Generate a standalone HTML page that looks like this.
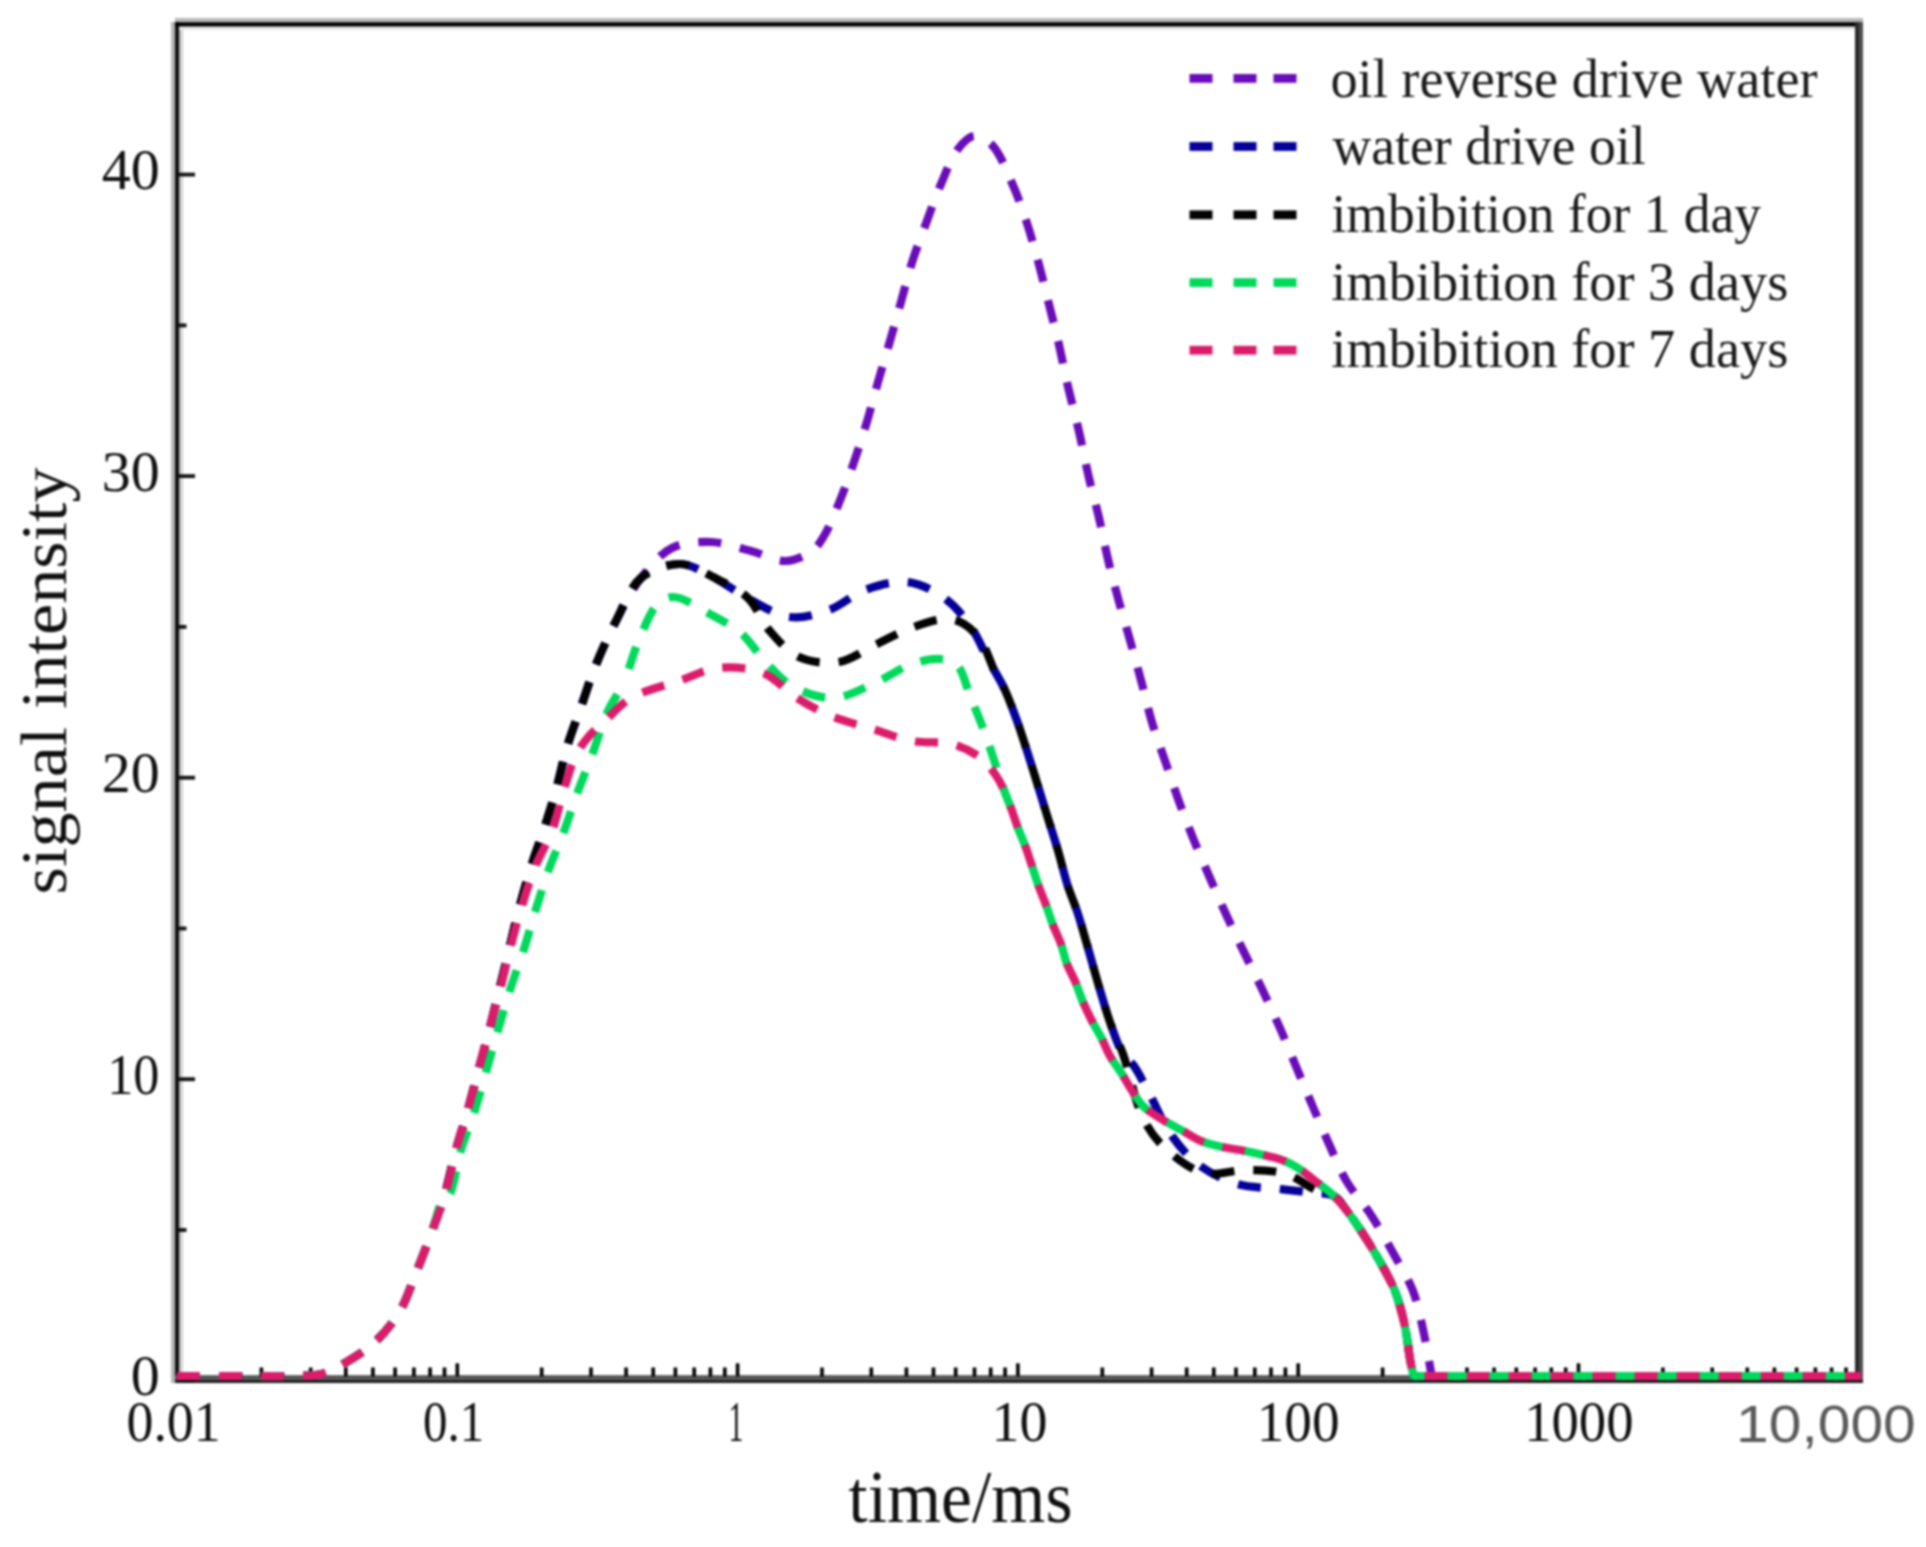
<!DOCTYPE html>
<html><head><meta charset="utf-8"><title>signal intensity vs time</title>
<style>html,body{margin:0;padding:0;background:#fff;}svg{display:block;filter:blur(0.9px);}</style>
</head><body>
<svg width="1926" height="1547" viewBox="0 0 1926 1547">
<rect width="1926" height="1547" fill="#fff"/>
<rect x="171" y="22" width="4" height="1361" fill="#b5b5b5"/>
<rect x="179" y="26" width="4" height="1350" fill="#d2d2d2"/>
<rect x="175" y="22" width="4.2" height="1361" fill="#111"/>
<rect x="175" y="18" width="1688" height="4.2" fill="#b8b8b8"/>
<rect x="179" y="26.5" width="1676" height="3.5" fill="#e8e8e8"/>
<rect x="175" y="22.2" width="1688" height="4.3" fill="#000"/>
<rect x="1855" y="22" width="4" height="1361" fill="#2a2a2a"/>
<rect x="1859" y="22" width="4" height="1361" fill="#4e4e4e"/>
<rect x="175" y="1375.2" width="1688" height="4.5" fill="#555"/>
<rect x="175" y="1379.7" width="1688" height="3.3" fill="#1c1c1c"/>
<rect x="179" y="1378.9" width="16" height="3.8" fill="#111"/>
<rect x="179" y="1077.3" width="16" height="3.8" fill="#111"/>
<rect x="179" y="775.8" width="16" height="3.8" fill="#111"/>
<rect x="179" y="474.2" width="16" height="3.8" fill="#111"/>
<rect x="179" y="172.7" width="16" height="3.8" fill="#111"/>
<rect x="179" y="1228.1" width="7.5" height="3.8" fill="#111"/>
<rect x="179" y="926.6" width="7.5" height="3.8" fill="#111"/>
<rect x="179" y="625.0" width="7.5" height="3.8" fill="#111"/>
<rect x="179" y="323.5" width="7.5" height="3.8" fill="#111"/>
<rect x="259.6" y="1367.5" width="3.6" height="9" fill="#000"/>
<rect x="308.9" y="1367.5" width="3.6" height="9" fill="#000"/>
<rect x="344.0" y="1367.5" width="3.6" height="9" fill="#000"/>
<rect x="371.1" y="1367.5" width="3.6" height="9" fill="#000"/>
<rect x="393.3" y="1367.5" width="3.6" height="9" fill="#000"/>
<rect x="412.1" y="1367.5" width="3.6" height="9" fill="#000"/>
<rect x="428.3" y="1367.5" width="3.6" height="9" fill="#000"/>
<rect x="442.7" y="1367.5" width="3.6" height="9" fill="#000"/>
<rect x="455.5" y="1363.3" width="3.6" height="13" fill="#000"/>
<rect x="539.9" y="1367.5" width="3.6" height="9" fill="#000"/>
<rect x="589.2" y="1367.5" width="3.6" height="9" fill="#000"/>
<rect x="624.3" y="1367.5" width="3.6" height="9" fill="#000"/>
<rect x="651.4" y="1367.5" width="3.6" height="9" fill="#000"/>
<rect x="673.6" y="1367.5" width="3.6" height="9" fill="#000"/>
<rect x="692.4" y="1367.5" width="3.6" height="9" fill="#000"/>
<rect x="708.6" y="1367.5" width="3.6" height="9" fill="#000"/>
<rect x="723.0" y="1367.5" width="3.6" height="9" fill="#000"/>
<rect x="735.8" y="1363.3" width="3.6" height="13" fill="#000"/>
<rect x="820.2" y="1367.5" width="3.6" height="9" fill="#000"/>
<rect x="869.5" y="1367.5" width="3.6" height="9" fill="#000"/>
<rect x="904.6" y="1367.5" width="3.6" height="9" fill="#000"/>
<rect x="931.7" y="1367.5" width="3.6" height="9" fill="#000"/>
<rect x="953.9" y="1367.5" width="3.6" height="9" fill="#000"/>
<rect x="972.7" y="1367.5" width="3.6" height="9" fill="#000"/>
<rect x="988.9" y="1367.5" width="3.6" height="9" fill="#000"/>
<rect x="1003.3" y="1367.5" width="3.6" height="9" fill="#000"/>
<rect x="1016.1" y="1363.3" width="3.6" height="13" fill="#000"/>
<rect x="1100.5" y="1367.5" width="3.6" height="9" fill="#000"/>
<rect x="1149.8" y="1367.5" width="3.6" height="9" fill="#000"/>
<rect x="1184.9" y="1367.5" width="3.6" height="9" fill="#000"/>
<rect x="1212.0" y="1367.5" width="3.6" height="9" fill="#000"/>
<rect x="1234.2" y="1367.5" width="3.6" height="9" fill="#000"/>
<rect x="1253.0" y="1367.5" width="3.6" height="9" fill="#000"/>
<rect x="1269.2" y="1367.5" width="3.6" height="9" fill="#000"/>
<rect x="1283.6" y="1367.5" width="3.6" height="9" fill="#000"/>
<rect x="1296.4" y="1363.3" width="3.6" height="13" fill="#000"/>
<rect x="1380.8" y="1367.5" width="3.6" height="9" fill="#000"/>
<rect x="1430.1" y="1367.5" width="3.6" height="9" fill="#000"/>
<rect x="1465.2" y="1367.5" width="3.6" height="9" fill="#000"/>
<rect x="1492.3" y="1367.5" width="3.6" height="9" fill="#000"/>
<rect x="1514.5" y="1367.5" width="3.6" height="9" fill="#000"/>
<rect x="1533.3" y="1367.5" width="3.6" height="9" fill="#000"/>
<rect x="1549.5" y="1367.5" width="3.6" height="9" fill="#000"/>
<rect x="1563.9" y="1367.5" width="3.6" height="9" fill="#000"/>
<rect x="1576.7" y="1363.3" width="3.6" height="13" fill="#000"/>
<rect x="1661.1" y="1367.5" width="3.6" height="9" fill="#000"/>
<rect x="1710.4" y="1367.5" width="3.6" height="9" fill="#000"/>
<rect x="1745.5" y="1367.5" width="3.6" height="9" fill="#000"/>
<rect x="1772.6" y="1367.5" width="3.6" height="9" fill="#000"/>
<rect x="1794.8" y="1367.5" width="3.6" height="9" fill="#000"/>
<rect x="1813.6" y="1367.5" width="3.6" height="9" fill="#000"/>
<rect x="1829.8" y="1367.5" width="3.6" height="9" fill="#000"/>
<rect x="1844.2" y="1367.5" width="3.6" height="9" fill="#000"/>
<path d="M177.0,1376.0 C201.3,1376.0 228.0,1376.0 250.0,1376.0 C268.2,1376.0 286.7,1376.6 300.0,1376.0 C308.8,1375.6 314.8,1376.0 322.0,1374.0 C329.8,1371.9 337.0,1367.7 345.0,1363.0 C354.6,1357.4 366.0,1350.4 375.0,1342.0 C384.4,1333.2 393.2,1322.4 400.0,1311.0 C406.9,1299.4 410.8,1285.8 416.0,1273.0 C421.2,1260.1 426.2,1247.0 431.0,1234.0 C435.8,1221.0 445.0,1195.0 445.0,1195.0 C445.0,1195.0 445.0,1195.0 445.0,1195.0 C445.0,1195.0 452.2,1164.2 456.0,1150.0 C459.5,1137.0 463.4,1125.7 467.0,1113.0 C470.8,1099.7 474.3,1085.7 478.0,1072.0 C481.7,1058.3 485.5,1044.6 489.0,1031.0 C492.5,1017.6 495.7,1004.4 499.0,991.0 C502.4,977.4 505.7,963.7 509.0,950.0 C512.3,936.3 515.3,922.9 519.0,909.0 C522.9,894.3 527.6,878.0 532.0,864.0 C535.9,851.5 540.1,841.0 544.0,829.0 C548.1,816.4 552.2,803.4 556.0,790.0 C559.9,776.1 562.8,761.0 567.0,747.0 C571.1,733.3 576.3,720.3 581.0,707.0 C585.7,693.7 589.5,680.7 595.0,667.0 C601.0,652.1 608.3,635.9 616.0,621.0 C623.6,606.2 631.2,590.5 641.0,578.0 C650.1,566.4 660.0,554.0 672.0,548.0 C683.5,542.3 698.0,541.6 711.0,542.0 C724.3,542.5 738.2,547.7 751.0,551.0 C763.1,554.1 775.3,561.5 786.0,561.0 C795.4,560.6 805.4,555.8 812.0,551.0 C817.5,547.0 820.2,542.3 824.0,536.0 C829.3,527.4 834.2,514.7 839.0,503.0 C844.3,490.2 849.3,475.5 854.0,462.0 C858.5,448.9 862.6,436.2 866.6,423.0 C870.6,409.5 874.1,395.7 878.0,382.0 C881.9,368.3 886.1,354.5 890.0,341.0 C893.8,327.8 897.3,315.2 901.0,302.0 C904.8,288.5 908.3,274.3 912.5,261.0 C916.6,248.1 921.3,236.1 926.0,223.5 C930.8,210.5 935.5,196.7 941.0,184.0 C946.2,171.9 951.4,157.4 958.0,149.0 C962.8,142.9 968.3,136.6 974.0,136.0 C979.6,135.4 986.6,139.7 992.0,145.0 C999.9,152.7 1006.2,170.1 1012.0,183.0 C1017.7,195.7 1022.2,208.9 1026.6,222.0 C1030.9,234.9 1034.4,247.8 1038.0,261.0 C1041.7,274.5 1045.0,288.3 1048.4,302.0 C1051.8,315.7 1055.4,329.3 1058.6,343.0 C1061.7,356.5 1064.1,369.4 1067.3,383.5 C1070.8,398.8 1075.4,415.6 1079.0,431.5 C1082.6,447.1 1085.5,463.0 1089.0,478.0 C1092.3,492.1 1096.1,505.2 1099.3,519.0 C1102.5,532.9 1105.1,547.2 1108.4,561.0 C1111.6,574.5 1115.1,587.6 1118.8,601.0 C1122.6,614.8 1126.8,628.7 1130.7,642.6 C1134.6,656.4 1138.3,670.3 1142.0,684.0 C1145.6,697.4 1148.5,710.8 1152.5,724.0 C1156.5,737.2 1161.4,750.0 1165.8,763.0 C1170.3,776.0 1174.5,789.1 1179.2,802.0 C1183.9,814.9 1188.8,827.6 1194.0,840.4 C1199.2,853.3 1204.9,866.3 1210.4,879.0 C1215.8,891.5 1221.1,903.7 1226.8,916.0 C1232.5,928.5 1238.6,941.0 1244.6,953.4 C1250.5,965.7 1256.7,977.7 1262.5,990.0 C1268.4,1002.4 1274.1,1014.8 1279.8,1027.7 C1285.7,1041.1 1291.4,1055.4 1297.0,1068.8 C1302.4,1081.8 1307.6,1094.4 1313.0,1107.0 C1318.3,1119.4 1323.4,1131.6 1329.0,1144.0 C1334.7,1156.6 1339.9,1170.1 1347.0,1182.0 C1354.0,1193.7 1363.4,1203.3 1371.0,1215.0 C1379.0,1227.3 1386.6,1241.1 1393.7,1254.0 C1400.5,1266.4 1408.0,1278.0 1413.0,1291.0 C1418.1,1304.3 1420.8,1319.5 1423.8,1333.0 C1426.5,1345.4 1429.0,1361.7 1430.5,1369.0 C1431.1,1372.2 1430.7,1374.9 1432.0,1376.0 C1433.1,1376.9 1434.7,1376.0 1437.0,1376.0 C1441.9,1376.0 1447.6,1376.0 1460.0,1376.0 C1511.7,1376.0 1727.3,1376.0 1861.0,1376.0" fill="none" stroke="#6a0cba" stroke-width="8.2" stroke-dasharray="23 19" stroke-dashoffset="0.0"/>
<path d="M177.0,1376.0 C201.3,1376.0 228.0,1376.0 250.0,1376.0 C268.2,1376.0 286.7,1376.6 300.0,1376.0 C308.8,1375.6 314.8,1376.0 322.0,1374.0 C329.8,1371.9 337.0,1367.7 345.0,1363.0 C354.6,1357.4 366.0,1350.4 375.0,1342.0 C384.4,1333.2 393.2,1322.4 400.0,1311.0 C406.9,1299.4 410.8,1285.8 416.0,1273.0 C421.2,1260.1 426.2,1247.0 431.0,1234.0 C435.8,1221.0 445.0,1195.0 445.0,1195.0 C445.0,1195.0 445.0,1195.0 445.0,1195.0 C445.0,1195.0 452.2,1164.2 456.0,1150.0 C459.5,1137.0 463.4,1125.7 467.0,1113.0 C470.8,1099.7 474.3,1085.7 478.0,1072.0 C481.7,1058.3 485.5,1044.6 489.0,1031.0 C492.5,1017.6 495.7,1004.4 499.0,991.0 C502.4,977.4 505.7,963.7 509.0,950.0 C512.3,936.3 515.3,922.9 519.0,909.0 C522.9,894.3 527.6,878.0 532.0,864.0 C535.9,851.5 540.1,841.0 544.0,829.0 C548.1,816.4 552.2,803.4 556.0,790.0 C559.9,776.1 562.8,761.0 567.0,747.0 C571.1,733.3 576.3,720.3 581.0,707.0 C585.7,693.7 589.5,680.7 595.0,667.0 C601.0,652.1 608.3,635.9 616.0,621.0 C623.6,606.2 629.6,587.5 641.0,578.0 C651.4,569.3 667.6,563.8 680.0,564.0" fill="none" stroke="#06009a" stroke-width="8.2" stroke-dasharray="23 19" stroke-dashoffset="0.0"/>
<path d="M680.0,564.0 C691.5,564.2 702.0,571.5 713.0,577.0 C725.0,583.0 736.4,592.4 749.0,599.0 C762.0,605.8 776.3,615.4 790.0,617.0 C802.9,618.5 816.6,614.4 829.0,610.0 C841.6,605.5 852.1,594.7 865.0,590.0 C878.1,585.3 893.7,580.6 907.0,582.0 C919.7,583.3 932.6,589.9 943.0,597.0 C953.2,604.0 961.5,613.7 969.0,624.0 C977.0,634.9 982.8,649.7 989.0,661.0 C994.3,670.7 999.5,678.6 1004.0,688.0 C1008.6,697.6 1012.1,707.5 1016.0,718.0 C1020.2,729.4 1024.2,742.3 1028.0,754.0 C1031.5,765.0 1034.7,775.3 1038.0,786.0 C1041.3,796.8 1044.7,807.7 1048.0,818.5 C1051.3,829.2 1054.8,839.5 1058.0,850.5 C1061.4,862.1 1064.5,875.8 1068.0,886.6 C1070.9,895.6 1074.0,902.0 1077.0,911.0 C1080.7,922.0 1084.3,935.3 1088.0,948.0 C1091.9,961.5 1096.0,976.7 1100.0,990.0 C1103.7,1002.2 1107.0,1014.0 1111.0,1025.0 C1114.7,1035.2 1118.4,1046.7 1123.0,1054.0 C1126.3,1059.2 1130.3,1060.9 1134.0,1066.0 C1139.0,1073.0 1143.5,1082.9 1149.0,1093.0 C1155.9,1105.6 1163.1,1123.6 1172.0,1136.0 C1180.0,1147.2 1188.4,1157.1 1199.0,1165.0 C1210.0,1173.2 1223.6,1180.0 1237.0,1184.0 C1250.6,1188.0 1266.5,1187.4 1280.0,1189.0 C1292.0,1190.4 1304.2,1191.7 1314.0,1193.0 C1321.6,1194.0 1328.3,1192.8 1334.0,1196.0 C1340.1,1199.4 1344.0,1206.9 1349.0,1213.5 C1354.9,1221.3 1361.3,1231.0 1367.0,1240.0 C1372.6,1248.9 1378.2,1258.2 1383.0,1267.0 C1387.4,1275.2 1391.7,1282.8 1395.0,1291.0 C1398.2,1299.1 1400.6,1307.9 1402.6,1316.0 C1404.5,1323.5 1405.8,1330.7 1407.0,1338.0 C1408.2,1345.1 1408.9,1353.0 1410.0,1359.0 C1410.8,1363.6 1411.7,1367.9 1412.5,1371.0 C1413.0,1373.0 1412.9,1375.2 1414.0,1376.0 C1415.1,1376.8 1416.8,1376.0 1419.0,1376.0 C1423.6,1376.0 1428.6,1376.0 1440.0,1376.0 C1491.2,1376.0 1720.7,1376.0 1861.0,1376.0" fill="none" stroke="#06009a" stroke-width="8.2" stroke-dasharray="23 19" stroke-dashoffset="4.0"/>
<path d="M177.0,1376.0 C201.3,1376.0 228.0,1376.0 250.0,1376.0 C268.2,1376.0 286.7,1376.6 300.0,1376.0 C308.8,1375.6 314.8,1376.0 322.0,1374.0 C329.8,1371.9 337.0,1367.7 345.0,1363.0 C354.6,1357.4 366.0,1350.4 375.0,1342.0 C384.4,1333.2 393.2,1322.4 400.0,1311.0 C406.9,1299.4 410.8,1285.8 416.0,1273.0 C421.2,1260.1 426.2,1247.0 431.0,1234.0 C435.8,1221.0 445.0,1195.0 445.0,1195.0 C445.0,1195.0 445.0,1195.0 445.0,1195.0 C445.0,1195.0 452.2,1164.2 456.0,1150.0 C459.5,1137.0 463.4,1125.7 467.0,1113.0 C470.8,1099.7 474.3,1085.7 478.0,1072.0 C481.7,1058.3 485.5,1044.6 489.0,1031.0 C492.5,1017.6 495.7,1004.4 499.0,991.0 C502.4,977.4 505.7,963.7 509.0,950.0 C512.3,936.3 515.3,922.9 519.0,909.0 C522.9,894.3 527.6,878.0 532.0,864.0 C535.9,851.5 540.1,841.0 544.0,829.0 C548.1,816.4 552.2,803.4 556.0,790.0 C559.9,776.1 562.8,761.0 567.0,747.0 C571.1,733.3 576.3,720.3 581.0,707.0 C585.7,693.7 589.5,680.7 595.0,667.0 C601.0,652.1 608.3,635.9 616.0,621.0 C623.6,606.2 629.6,587.5 641.0,578.0 C651.4,569.3 667.6,563.8 680.0,564.0 C691.5,564.2 702.1,571.6 713.0,577.0 C724.7,582.8 738.6,589.0 748.0,598.0 C757.1,606.8 760.6,620.3 769.0,630.0 C777.6,640.0 787.3,651.7 799.0,657.0 C810.7,662.3 826.3,664.0 839.0,662.0 C851.6,660.0 863.0,650.7 875.0,645.0 C887.0,639.3 898.9,632.4 911.0,628.0 C922.6,623.8 936.3,618.9 946.0,619.0 C953.0,619.1 958.5,620.8 964.0,624.0 C970.3,627.7 976.1,634.0 981.0,641.0 C986.8,649.4 990.7,663.4 995.0,672.0 C998.2,678.3 1001.0,681.7 1004.0,688.0 C1008.0,696.3 1012.1,707.5 1016.0,718.0 C1020.2,729.4 1024.2,742.3 1028.0,754.0 C1031.5,765.0 1034.7,775.3 1038.0,786.0 C1041.3,796.8 1044.7,807.7 1048.0,818.5 C1051.3,829.2 1054.8,839.5 1058.0,850.5 C1061.4,862.1 1064.5,875.8 1068.0,886.6 C1070.9,895.6 1074.0,902.0 1077.0,911.0 C1080.7,922.0 1084.3,935.3 1088.0,948.0 C1091.9,961.5 1096.0,976.7 1100.0,990.0 C1103.7,1002.2 1107.0,1014.0 1111.0,1025.0 C1114.7,1035.2 1118.7,1042.3 1123.0,1054.0 C1129.4,1071.4 1135.2,1103.0 1144.0,1120.0 C1150.4,1132.3 1156.7,1140.5 1166.0,1149.0 C1176.3,1158.4 1190.4,1169.6 1204.0,1173.0 C1217.1,1176.3 1232.2,1169.8 1246.0,1170.0 C1259.5,1170.2 1273.9,1170.3 1286.0,1174.0 C1297.1,1177.4 1307.1,1186.2 1316.0,1190.0 C1322.6,1192.8 1328.7,1192.4 1334.0,1196.0 C1339.8,1199.9 1344.0,1206.9 1349.0,1213.5 C1354.9,1221.3 1361.3,1231.0 1367.0,1240.0 C1372.6,1248.9 1378.2,1258.2 1383.0,1267.0 C1387.4,1275.2 1391.7,1282.8 1395.0,1291.0 C1398.2,1299.1 1400.6,1307.9 1402.6,1316.0 C1404.5,1323.5 1405.8,1330.7 1407.0,1338.0 C1408.2,1345.1 1408.9,1353.0 1410.0,1359.0 C1410.8,1363.6 1411.7,1367.9 1412.5,1371.0 C1413.0,1373.0 1412.9,1375.2 1414.0,1376.0 C1415.1,1376.8 1416.8,1376.0 1419.0,1376.0 C1423.6,1376.0 1428.6,1376.0 1440.0,1376.0 C1491.2,1376.0 1720.7,1376.0 1861.0,1376.0" fill="none" stroke="#030303" stroke-width="8.2" stroke-dasharray="23 19" stroke-dashoffset="0.0"/>
<path d="M177.0,1376.0 C201.3,1376.0 228.0,1376.0 250.0,1376.0 C268.2,1376.0 286.7,1376.6 300.0,1376.0 C308.8,1375.6 314.8,1376.0 322.0,1374.0 C329.8,1371.9 337.0,1367.7 345.0,1363.0 C354.6,1357.4 366.0,1350.4 375.0,1342.0 C384.4,1333.2 393.2,1322.4 400.0,1311.0 C406.9,1299.4 410.8,1285.8 416.0,1273.0 C421.2,1260.1 426.2,1247.0 431.0,1234.0 C435.8,1221.0 440.6,1198.1 445.0,1195.0 C446.4,1194.0 447.7,1196.0 449.0,1195.0 C453.4,1191.6 456.6,1164.2 461.0,1150.0 C465.0,1137.0 469.9,1125.7 474.0,1113.0 C478.3,1099.7 482.0,1085.8 486.0,1072.0 C490.0,1058.1 494.0,1043.8 498.0,1030.0 C502.0,1016.5 505.7,1003.4 510.0,990.0 C514.4,976.4 519.6,962.6 524.0,949.0 C528.3,935.6 531.8,922.3 536.0,909.0 C540.2,895.6 544.4,881.8 549.0,869.0 C553.4,856.9 558.5,846.1 563.0,834.0 C567.8,821.2 572.1,807.2 577.0,794.0 C581.8,780.9 587.0,768.4 592.0,755.0 C597.3,740.8 602.2,723.7 608.0,711.0 C612.7,700.7 618.3,694.3 623.0,684.0" fill="none" stroke="#00d95c" stroke-width="8.2" stroke-dasharray="23 19" stroke-dashoffset="0.0"/>
<path d="M623.0,684.0 C628.8,671.3 633.0,653.7 639.0,640.0 C644.5,627.5 649.9,612.1 657.0,605.0 C661.8,600.2 666.5,597.1 673.0,597.0 C682.8,596.8 698.3,607.7 710.0,614.0 C721.3,620.1 733.0,626.1 742.0,634.0 C750.4,641.3 755.2,650.7 763.0,659.0 C771.6,668.1 780.6,679.5 792.0,686.0 C803.8,692.7 819.5,698.4 833.0,698.0 C846.5,697.7 859.9,689.6 873.0,684.0 C886.3,678.3 899.8,668.1 912.0,664.0 C921.8,660.7 931.9,658.3 940.0,659.0 C946.4,659.5 952.3,660.6 957.0,665.0 C963.5,671.1 966.0,686.1 970.5,697.0 C975.2,708.4 980.2,720.4 984.5,732.0 C988.7,743.4 992.5,755.6 996.0,766.0 C998.9,774.7 1001.3,782.6 1004.0,790.0 C1006.3,796.5 1008.7,801.8 1011.0,808.0 C1013.4,814.5 1015.5,821.4 1018.0,828.0 C1020.5,834.7 1023.6,841.5 1026.0,848.0 C1028.2,854.1 1029.9,859.8 1032.0,866.0 C1034.2,872.7 1036.6,880.3 1039.0,887.0 C1041.3,893.3 1043.7,898.8 1046.0,905.0 C1048.4,911.5 1050.5,918.5 1053.0,925.0 C1055.5,931.5 1058.7,937.5 1061.0,944.0 C1063.3,950.5 1064.6,957.7 1067.0,964.0 C1069.3,970.0 1072.4,975.0 1075.0,981.0 C1077.8,987.6 1080.1,995.2 1083.0,1002.0 C1085.8,1008.5 1088.8,1014.8 1092.0,1021.0 C1095.2,1027.1 1098.9,1033.0 1102.0,1039.0 C1104.9,1044.7 1106.8,1050.4 1110.0,1056.0 C1113.4,1062.0 1118.3,1068.2 1122.0,1074.0 C1125.3,1079.2 1127.7,1083.9 1131.0,1089.0 C1134.6,1094.6 1138.0,1101.0 1143.0,1106.0 C1148.5,1111.4 1156.2,1115.8 1163.0,1120.0 C1169.6,1124.1 1176.5,1127.4 1183.0,1131.0 C1189.2,1134.4 1194.6,1138.4 1201.0,1141.0 C1207.6,1143.7 1215.2,1145.5 1222.0,1147.0 C1228.2,1148.4 1233.8,1148.8 1240.0,1150.0 C1246.7,1151.3 1254.0,1152.8 1261.0,1154.5 C1268.0,1156.2 1275.6,1157.6 1282.0,1160.0 C1287.8,1162.2 1292.8,1164.8 1298.0,1168.0 C1303.5,1171.4 1308.4,1175.7 1314.0,1180.0 C1320.3,1184.9 1328.0,1190.2 1334.0,1196.0 C1339.6,1201.5 1344.0,1206.9 1349.0,1213.5 C1354.9,1221.3 1361.3,1231.0 1367.0,1240.0 C1372.6,1248.9 1378.2,1258.2 1383.0,1267.0 C1387.4,1275.2 1391.7,1282.8 1395.0,1291.0 C1398.2,1299.1 1400.6,1307.9 1402.6,1316.0 C1404.5,1323.5 1405.8,1330.7 1407.0,1338.0 C1408.2,1345.1 1408.9,1353.0 1410.0,1359.0 C1410.8,1363.6 1411.7,1367.9 1412.5,1371.0 C1413.0,1373.0 1412.9,1375.2 1414.0,1376.0 C1415.1,1376.8 1416.8,1376.0 1419.0,1376.0 C1423.6,1376.0 1428.6,1376.0 1440.0,1376.0 C1491.2,1376.0 1720.7,1376.0 1861.0,1376.0" fill="none" stroke="#00d95c" stroke-width="8.2" stroke-dasharray="23 19" stroke-dashoffset="25.7"/>
<path d="M177.0,1376.0 C201.3,1376.0 228.0,1376.0 250.0,1376.0 C268.2,1376.0 286.7,1376.6 300.0,1376.0 C308.8,1375.6 314.8,1376.0 322.0,1374.0 C329.8,1371.9 337.0,1367.7 345.0,1363.0 C354.6,1357.4 366.0,1350.4 375.0,1342.0 C384.4,1333.2 393.2,1322.4 400.0,1311.0 C406.9,1299.4 410.8,1285.8 416.0,1273.0 C421.2,1260.1 426.2,1247.0 431.0,1234.0 C435.8,1221.0 440.9,1208.6 445.0,1195.0 C449.3,1180.6 452.2,1164.2 456.0,1150.0 C459.5,1137.0 463.4,1125.7 467.0,1113.0 C470.8,1099.7 474.4,1085.8 478.0,1072.0 C481.7,1058.1 485.3,1043.8 489.0,1030.0 C492.6,1016.5 496.5,1003.4 500.0,990.0 C503.5,976.4 506.5,962.6 510.0,949.0 C513.5,935.6 516.9,922.4 521.0,909.0 C525.2,895.1 529.7,880.3 535.0,867.0 C540.1,854.4 547.3,843.4 552.0,831.0 C556.7,818.7 559.0,805.6 563.0,793.0 C567.0,780.3 570.7,765.4 576.0,755.0 C580.1,746.9 585.2,740.5 590.0,735.0 C593.9,730.5 597.1,728.4 602.0,724.0 C609.6,717.2 619.3,704.9 631.0,698.0 C644.4,690.1 663.8,686.2 679.0,681.0 C692.7,676.3 704.4,669.4 718.0,668.0 C732.3,666.5 749.7,667.8 763.0,673.0 C775.9,678.0 785.4,690.7 797.0,698.0 C808.1,705.0 819.0,711.0 831.0,716.0 C843.6,721.2 857.6,724.4 871.0,728.5 C884.6,732.7 898.3,738.4 912.0,741.0 C925.3,743.5 940.0,740.8 952.0,744.0 C962.7,746.9 973.5,752.3 981.0,758.0 C987.1,762.6 991.1,768.5 995.0,774.0 C998.6,779.2 1001.4,784.4 1004.0,790.0 C1006.7,795.7 1008.7,801.8 1011.0,808.0 C1013.4,814.5 1015.5,821.4 1018.0,828.0 C1020.5,834.7 1023.6,841.5 1026.0,848.0 C1028.2,854.1 1029.9,859.8 1032.0,866.0 C1034.2,872.7 1036.6,880.3 1039.0,887.0 C1041.3,893.3 1043.7,898.8 1046.0,905.0 C1048.4,911.5 1050.5,918.5 1053.0,925.0 C1055.5,931.5 1058.7,937.5 1061.0,944.0 C1063.3,950.5 1064.6,957.7 1067.0,964.0 C1069.3,970.0 1072.4,975.0 1075.0,981.0 C1077.8,987.6 1080.1,995.2 1083.0,1002.0 C1085.8,1008.5 1088.8,1014.8 1092.0,1021.0 C1095.2,1027.1 1098.9,1033.0 1102.0,1039.0 C1104.9,1044.7 1106.8,1050.4 1110.0,1056.0 C1113.4,1062.0 1118.3,1068.2 1122.0,1074.0 C1125.3,1079.2 1127.7,1083.9 1131.0,1089.0 C1134.6,1094.6 1138.0,1101.0 1143.0,1106.0 C1148.5,1111.4 1156.2,1115.8 1163.0,1120.0 C1169.6,1124.1 1176.5,1127.4 1183.0,1131.0 C1189.2,1134.4 1194.6,1138.4 1201.0,1141.0 C1207.6,1143.7 1215.2,1145.5 1222.0,1147.0 C1228.2,1148.4 1233.8,1148.8 1240.0,1150.0 C1246.7,1151.3 1254.0,1152.8 1261.0,1154.5 C1268.0,1156.2 1275.6,1157.6 1282.0,1160.0 C1287.8,1162.2 1292.8,1164.8 1298.0,1168.0 C1303.5,1171.4 1308.4,1175.7 1314.0,1180.0 C1320.3,1184.9 1328.0,1190.2 1334.0,1196.0 C1339.6,1201.5 1344.0,1206.9 1349.0,1213.5 C1354.9,1221.3 1361.3,1231.0 1367.0,1240.0 C1372.6,1248.9 1378.2,1258.2 1383.0,1267.0 C1387.4,1275.2 1391.7,1282.8 1395.0,1291.0 C1398.2,1299.1 1400.6,1307.9 1402.6,1316.0 C1404.5,1323.5 1405.8,1330.7 1407.0,1338.0 C1408.2,1345.1 1408.9,1353.0 1410.0,1359.0 C1410.8,1363.6 1411.7,1367.9 1412.5,1371.0 C1413.0,1373.0 1412.9,1375.2 1414.0,1376.0 C1415.1,1376.8 1416.8,1376.0 1419.0,1376.0 C1423.6,1376.0 1428.6,1376.0 1440.0,1376.0 C1491.2,1376.0 1720.7,1376.0 1861.0,1376.0" fill="none" stroke="#dc1c6a" stroke-width="8.2" stroke-dasharray="23 19" stroke-dashoffset="0.0"/>
<rect x="1189.5" y="74.0" width="23" height="8.8" fill="#6a0cba"/>
<rect x="1233.5" y="74.0" width="23" height="8.8" fill="#6a0cba"/>
<rect x="1273.5" y="74.0" width="23" height="8.8" fill="#6a0cba"/>
<rect x="1189.5" y="142.1" width="23" height="8.8" fill="#06009a"/>
<rect x="1233.5" y="142.1" width="23" height="8.8" fill="#06009a"/>
<rect x="1273.5" y="142.1" width="23" height="8.8" fill="#06009a"/>
<rect x="1189.5" y="210.4" width="23" height="8.8" fill="#030303"/>
<rect x="1233.5" y="210.4" width="23" height="8.8" fill="#030303"/>
<rect x="1273.5" y="210.4" width="23" height="8.8" fill="#030303"/>
<rect x="1189.5" y="278.2" width="23" height="8.8" fill="#00d95c"/>
<rect x="1233.5" y="278.2" width="23" height="8.8" fill="#00d95c"/>
<rect x="1273.5" y="278.2" width="23" height="8.8" fill="#00d95c"/>
<rect x="1189.5" y="345.8" width="23" height="8.8" fill="#dc1c6a"/>
<rect x="1233.5" y="345.8" width="23" height="8.8" fill="#dc1c6a"/>
<rect x="1273.5" y="345.8" width="23" height="8.8" fill="#dc1c6a"/>
<text transform="translate(1330.44,96.70) scale(0.9879,1.0000)" font-family="'Liberation Serif', 'Times New Roman', serif" font-size="55.0" fill="#1a1a1a">oil reverse drive water</text>
<text transform="translate(1332.45,163.80) scale(0.9770,1.0000)" font-family="'Liberation Serif', 'Times New Roman', serif" font-size="55.0" fill="#1a1a1a">water drive oil</text>
<text transform="translate(1331.38,231.90) scale(0.9738,1.0000)" font-family="'Liberation Serif', 'Times New Roman', serif" font-size="55.0" fill="#1a1a1a">imbibition for 1 day</text>
<text transform="translate(1331.36,300.00) scale(0.9875,1.0000)" font-family="'Liberation Serif', 'Times New Roman', serif" font-size="55.0" fill="#1a1a1a">imbibition for 3 days</text>
<text transform="translate(1331.36,367.10) scale(0.9875,1.0000)" font-family="'Liberation Serif', 'Times New Roman', serif" font-size="55.0" fill="#1a1a1a">imbibition for 7 days</text>
<text transform="translate(130.70,1395.20) scale(1.0000,1.0000)" font-family="'Liberation Serif', 'Times New Roman', serif" font-size="58.0" fill="#111">0</text>
<text transform="translate(107.28,1093.65) scale(0.9000,1.0000)" font-family="'Liberation Serif', 'Times New Roman', serif" font-size="58.0" fill="#111">10</text>
<text transform="translate(101.70,792.10) scale(1.0000,1.0000)" font-family="'Liberation Serif', 'Times New Roman', serif" font-size="58.0" fill="#111">20</text>
<text transform="translate(101.70,490.55) scale(1.0000,1.0000)" font-family="'Liberation Serif', 'Times New Roman', serif" font-size="58.0" fill="#111">30</text>
<text transform="translate(101.70,189.00) scale(1.0000,1.0000)" font-family="'Liberation Serif', 'Times New Roman', serif" font-size="58.0" fill="#111">40</text>
<text transform="translate(126.45,1441.00) scale(0.9289,1.0000)" font-family="'Liberation Serif', 'Times New Roman', serif" font-size="58.0" fill="#111">0.01</text>
<text transform="translate(422.94,1441.00) scale(0.8441,1.0000)" font-family="'Liberation Serif', 'Times New Roman', serif" font-size="58.0" fill="#111">0.1</text>
<text transform="translate(728.38,1441.00) scale(0.5143,1.0000)" font-family="'Liberation Serif', 'Times New Roman', serif" font-size="58.0" fill="#111">1</text>
<text transform="translate(991.57,1441.00) scale(0.9666,1.0000)" font-family="'Liberation Serif', 'Times New Roman', serif" font-size="58.0" fill="#111">10</text>
<text transform="translate(1256.63,1441.00) scale(0.9537,1.0000)" font-family="'Liberation Serif', 'Times New Roman', serif" font-size="58.0" fill="#111">100</text>
<text transform="translate(1524.19,1441.00) scale(0.9430,1.0000)" font-family="'Liberation Serif', 'Times New Roman', serif" font-size="58.0" fill="#111">1000</text>
<text transform="translate(1736.03,1441.50) scale(1.1414,1.0000)" font-family="'Liberation Sans', Arial, sans-serif" font-size="51.5" fill="#5a5a5a">10,000</text>
<text transform="translate(848.30,1522.00) scale(0.9493,1.0000)" font-family="'Liberation Serif', 'Times New Roman', serif" font-size="73.3" fill="#111">time/ms</text>
<g transform="translate(65.5,891.5) rotate(-90)"><text transform="translate(-2.88,0) scale(1.0705,1)" font-family="'Liberation Serif', 'Times New Roman', serif" font-size="65.6" fill="#111">signal intensity</text></g>
</svg>
</body></html>
